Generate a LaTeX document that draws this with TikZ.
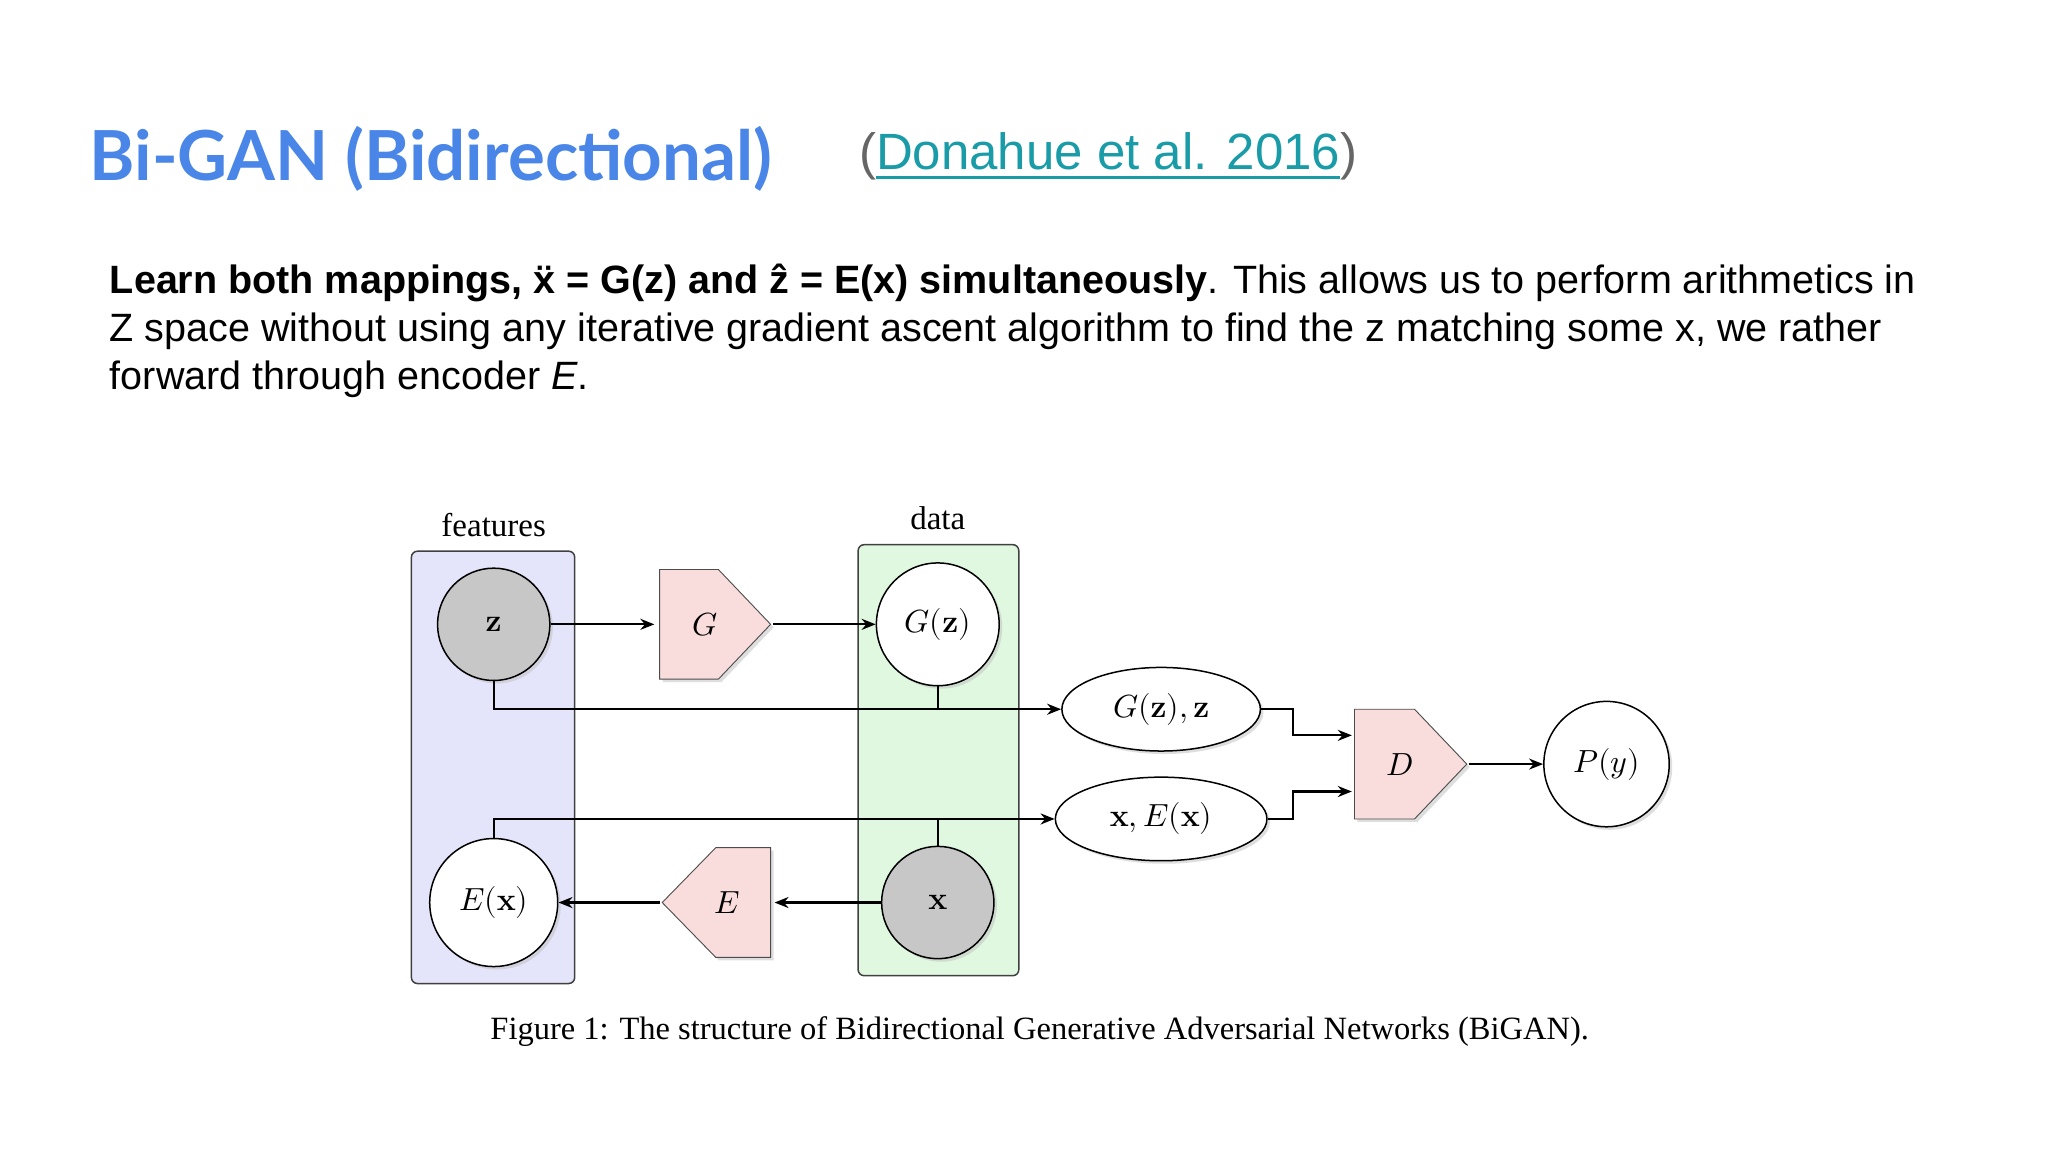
\documentclass[tikz,border=0pt]{standalone}
\usepackage{unicode-math}
\newfontfamily\arial{Liberation Sans}
\newfontfamily\latofont{Lato}
\newfontfamily\serifont{Liberation Serif}
\usetikzlibrary{shapes.geometric,shadows,arrows.meta}
\definecolor{titleblue}{HTML}{4A86E8}
\definecolor{linkteal}{HTML}{1A9BA8}
\definecolor{featfill}{HTML}{E4E4FA}
\definecolor{datafill}{HTML}{DFF8DF}
\definecolor{pinkfill}{HTML}{F9DCDC}
\begin{document}
\begin{tikzpicture}[x=1.306pt,y=-1.306pt,
  sh/.style={drop shadow={shadow xshift=3pt,shadow yshift=-3pt,fill=black!25}},
  circ/.style={circle,draw,line width=1.5pt,minimum size=#1*2.612pt,inner sep=0pt,sh,font=\fontsize{32}{32}\selectfont},
  ell/.style={ellipse,draw,line width=1.5pt,fill=white,sh,inner sep=0pt,font=\fontsize{32}{32}\selectfont},
  pent/.style={draw=black!70,line width=0.9pt,fill=pinkfill,sh},
  conn/.style={line width=2.2pt,-{Stealth[length=14pt,width=11pt]}},
  ln/.style={line width=2.2pt},
  box/.style={draw=black!75,line width=1.5pt,rounded corners=6pt}]
\useasboundingbox[fill=white] (0,0) rectangle (1568,882);
\node[anchor=west,text=titleblue,font=\latofont\bfseries\fontsize{69}{69}\selectfont] (title) at (66,122) {Bi-GAN (Bidirectional)};
\node[anchor=west,font=\arial\fontsize{51}{51}\selectfont,text=black!60] (ref) at (655,120) {(\textcolor{linkteal}{\underline{Donahue et al. 2016}})};
\node[anchor=north west,align=left,font=\arial\fontsize{39.5}{48}\selectfont,inner sep=0pt] (body) at (84,202) {\textbf{Learn both mappings, ẍ = G(z) and ẑ = E(x) simultaneously}. This allows us to perform arithmetics in\\Z space without using any iterative gradient ascent algorithm to find the z matching some x, we rather\\forward through encoder \textit{E}.};
\draw[box,fill=featfill] (315,422) rectangle (440,753);
\draw[box,fill=datafill] (657,417) rectangle (780,747);
\node[font=\serifont\fontsize{33}{33}\selectfont] (feat) at (378,402) {features};
\node[font=\serifont\fontsize{33}{33}\selectfont] (data) at (718,397) {data};
\node[circ=43,fill=black!22] (z) at (378,478) {$\mathbf{z}$};
\node[circ=47,fill=white] (gz) at (718,478) {$G(\mathbf{z})$};
\node[circ=43,fill=black!22] (x) at (718,691) {$\mathbf{x}$};
\node[circ=49,fill=white] (ex) at (378,691) {$E(\mathbf{x})$};
\node[circ=48,fill=white] (py) at (1230,585) {$P(y)$};
\node[ell,minimum width=152*1.306pt,minimum height=64*1.306pt] (e1) at (889,543) {$G(\mathbf{z}),\mathbf{z}$};
\node[ell,minimum width=162*1.306pt,minimum height=64*1.306pt] (e2) at (889,627) {$\mathbf{x},E(\mathbf{x})$};
\draw[pent] (505,436) -- (550,436) -- (590,478) -- (550,520) -- (505,520) -- cycle;
\node[font=\fontsize{32}{32}\selectfont] (G) at (540,478) {$G$};
\draw[pent] (1037,543) -- (1083,543) -- (1123,585) -- (1083,627) -- (1037,627) -- cycle;
\node[font=\fontsize{32}{32}\selectfont] (D) at (1072,585) {$D$};
\draw[pent] (590,649) -- (548,649) -- (507,691) -- (548,733) -- (590,733) -- cycle;
\node[font=\fontsize{32}{32}\selectfont] (E) at (557,691) {$E$};
\coordinate (Gin) at (501,478); \coordinate (Gout) at (592,478);
\coordinate (Din1) at (1035,563); \coordinate (Din2) at (1035,606);
\coordinate (Dout) at (1125,585);
\coordinate (Ein) at (593,691); \coordinate (Eout) at (505,691);
\draw[conn] (z) -- (Gin);
\draw[conn] (Gout) -- (gz);
\draw[conn] (Dout) -- (py);
\draw[conn] (x) -- (Ein);
\draw[conn] (Eout) -- (ex);
\draw[conn] (z.south) -- (378,543) -- (e1.west);
\draw[ln] (gz.south) -- (718,543);
\draw[conn] (ex.north) -- (378,627) -- (e2.west);
\draw[ln] (x.north) -- (718,627);
\draw[conn] (e1.east) -- (990,543) -- (990,563) -- (Din1);
\draw[conn] (e2.east) -- (990,627) -- (990,606) -- (Din2);
\node[font=\serifont\fontsize{32.5}{32.5}\selectfont] (cap) at (796,790) {Figure 1: The structure of Bidirectional Generative Adversarial Networks (BiGAN).};
\end{tikzpicture}
\end{document}
